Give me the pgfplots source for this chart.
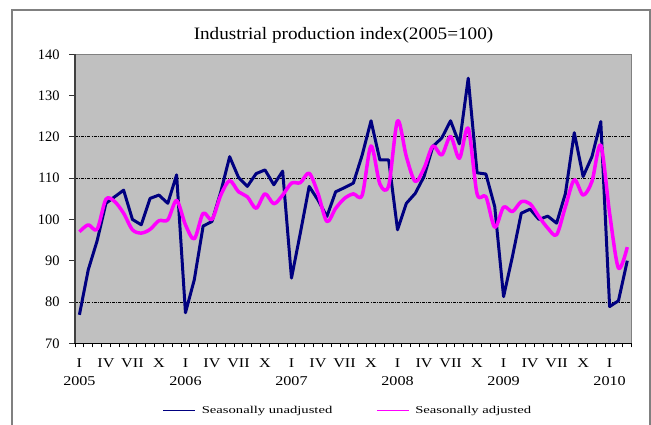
\documentclass[border=0pt]{standalone}
\usepackage{fontspec}
\setmainfont{Liberation Serif}
\newfontfamily\titlefont{Liberation Serif}[FakeStretch=1.1]
\newfontfamily\xfont{Liberation Serif}[FakeStretch=1.2]
\newfontfamily\legfont{Liberation Serif}[FakeStretch=1.4]
\usepackage{pgfplots}
\usepackage{pgfplotstable}
\pgfplotsset{compat=1.18}
\definecolor{plotgray}{HTML}{C0C0C0}
\definecolor{navyline}{HTML}{000080}
\definecolor{magline}{HTML}{FF00FF}
\pgfplotstableread{
m u a
0 76.9 97.0
1 87.8 98.7
2 94.8 97.6
3 103.9 104.9
4 105.5 104.3
5 107.1 101.5
6 100.0 97.5
7 98.7 96.7
8 105.1 97.6
9 105.9 99.7
10 103.9 99.9
11 110.8 104.6
12 77.4 98.7
13 85.4 95.3
14 98.4 101.5
15 99.5 100.0
16 106.7 105.9
17 115.2 109.4
18 110.2 106.7
19 108.0 105.5
20 111.1 102.7
21 112.0 106.2
22 108.4 103.8
23 111.7 105.9
24 85.8 108.8
25 96.7 108.9
26 108.0 111.2
27 104.7 106.3
28 100.7 99.5
29 106.7 102.7
30 107.7 105.1
31 108.8 106.2
32 115.6 105.9
33 123.9 117.8
34 114.4 108.6
35 114.4 108.2
36 97.5 123.9
37 103.9 115.2
38 106.3 109.2
39 110.4 112.4
40 117.7 117.8
41 119.7 115.6
42 123.9 120.1
43 118.3 114.8
44 134.2 122.1
45 111.3 106.2
46 111.0 105.5
47 103.1 98.1
48 81.3 103.0
49 91.0 101.9
50 101.5 104.3
51 102.5 103.8
52 100.0 100.7
53 100.8 97.9
54 99.1 96.3
55 106.3 103.1
56 121.0 109.6
57 110.4 105.9
58 115.2 109.2
59 123.7 118.0
60 78.9 101.5
61 80.3 88.2
62 90.0 93.3
}\ipdata
\begin{document}
\begin{tikzpicture}
\useasboundingbox (0,0) rectangle (651bp,425bp);
\fill[white] (0,0) rectangle (651bp,425bp);
\draw[color=gray, line width=2bp] (12bp,-5bp) -- (12bp,415bp) -- (650bp,415bp) -- (650bp,-5bp);
\node[anchor=base, font=\titlefont\fontsize{17.5}{20}\selectfont] at (343.5bp,385.3bp) {Industrial production index(2005=100)};
\begin{axis}[
  at={(75bp,81.7bp)}, anchor=south west,
  scale only axis, width=556.7bp, height=289bp,
  xmin=-0.5, xmax=62.5, ymin=70, ymax=140,
  clip=false,
  axis background/.style={fill=plotgray},
  axis line style={draw=none},
  ytick={70,80,...,140},
  ytick pos=left, xtick pos=bottom, tick align=outside,
  major tick length=6bp,
  ytick style={color=black!80, line width=1bp},
  yticklabel style={font=\fontsize{14.5}{17}\selectfont, xshift=-6bp},
  /pgf/number format/assume math mode=true,
  xtick={0,3,...,60},
  xticklabels={I\\2005,IV,VII,X,I\\2006,IV,VII,X,I\\2007,IV,VII,X,I\\2008,IV,VII,X,I\\2009,IV,VII,X,I\\2010},
  major x tick style={draw=none},
  minor xtick={-0.5,0.5,...,62.5},
  minor x tick style={black, line width=1bp},
  minor tick length=4bp,
  xticklabel style={align=center, font=\xfont\fontsize{13.5}{17.5}\selectfont, yshift=-6bp},
  extra y ticks={80,110,120},
  extra y tick labels={},
  extra y tick style={grid=major},
  major grid style={black, line width=0.8bp, dash pattern=on 3bp off 1.2bp on 0.8bp off 1.2bp},
  legend style={at={(0.4904,-0.234)}, anchor=center, draw=none, fill=none,
    font=\legfont\fontsize{10.5}{12}\selectfont,
    /tikz/every odd column/.append style={column sep=4bp},
    /tikz/every even column/.append style={column sep=42bp}},
  legend columns=2,
  legend image code/.code={\draw[#1, line width=1bp] (0bp,0bp) -- (32bp,0bp);},
]
\addplot[navyline, line width=3bp, line join=round] table[x=m, y=u] {\ipdata};
\addlegendentry{Seasonally unadjusted}
\addplot[magline, line width=3.5bp, smooth, tension=0.5, line join=round] table[x=m, y=a] {\ipdata};
\addlegendentry{Seasonally adjusted}
\end{axis}
\draw[color=gray, line width=1.5bp] (75bp,370.7bp) -- (631.7bp,370.7bp) -- (631.7bp,81.7bp);
\draw[color=black!75, line width=2bp] (75bp,370.7bp) -- (75bp,81.7bp);
\draw[color=black, line width=1.2bp] (74bp,81.7bp) -- (631.7bp,81.7bp);
\end{tikzpicture}
\end{document}
